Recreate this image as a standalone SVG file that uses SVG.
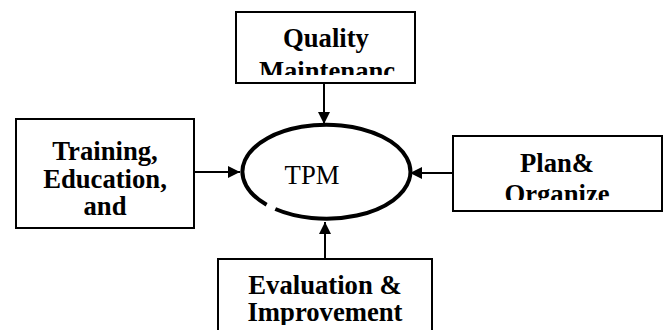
<svg xmlns="http://www.w3.org/2000/svg" width="668" height="330" viewBox="0 0 668 330">
<style>
.box{fill:#fff;stroke:#000;stroke-width:2}
.lbl{font-family:"Liberation Serif","Times New Roman",serif;font-weight:bold;font-size:26.67px;text-anchor:middle;fill:#000}
.tpm{font-family:"Liberation Serif","Times New Roman",serif;font-size:26.67px;text-anchor:middle;fill:#000}
.conn{stroke:#000;stroke-width:2;fill:none}
</style>
<defs>
<marker id="ah" viewBox="0 0 10 10" refX="10" refY="5" markerWidth="6" markerHeight="6" orient="auto" markerUnits="strokeWidth">
<path d="M0,0 L10,5 L0,10 z" fill="#000"/>
</marker>
<clipPath id="cTop"><rect x="236" y="12" width="179" height="63"/></clipPath>
<clipPath id="cRight"><rect x="453" y="136" width="209" height="64"/></clipPath>
<clipPath id="cBottom"><rect x="218" y="259" width="214" height="66"/></clipPath>
</defs>
<rect width="668" height="330" fill="#fff"/>
<g id="connectors">
<line class="conn" x1="324" y1="83" x2="324" y2="124" marker-end="url(#ah)"/>
<line class="conn" x1="194" y1="172" x2="240" y2="172" marker-end="url(#ah)"/>
<line class="conn" x1="453" y1="173" x2="410" y2="173" marker-end="url(#ah)"/>
<line class="conn" x1="325" y1="259" x2="325" y2="222" marker-end="url(#ah)"/>
</g>
<g id="tpm">
<path d="M 275.3 209 A 84 47 0 1 0 266.6 204.7" fill="none" stroke="#000" stroke-width="4"/>
<text class="tpm" x="312" y="184">TPM</text>
</g>
<g id="quality">
<rect class="box" x="236" y="12" width="179" height="71"/>
<g clip-path="url(#cTop)">
<text class="lbl" x="326" y="47">Quality</text>
<text class="lbl" x="327" y="80">Maintenanc</text>
</g>
</g>
<g id="training">
<rect class="box" x="16" y="119" width="178" height="109"/>
<text class="lbl" x="105" y="160">Training,</text>
<text class="lbl" x="105" y="188">Education,</text>
<text class="lbl" x="105" y="215">and</text>
</g>
<g id="plan">
<rect class="box" x="453" y="136" width="209" height="75"/>
<g clip-path="url(#cRight)">
<text class="lbl" x="557" y="172">Plan&amp;</text>
<text class="lbl" x="557" y="203">Organize</text>
</g>
</g>
<g id="evaluation">
<rect class="box" x="218" y="259" width="214" height="90"/>
<g clip-path="url(#cBottom)">
<text class="lbl" x="325" y="294">Evaluation &amp;</text>
<text class="lbl" x="325" y="321">Improvement</text>
</g>
</g>
</svg>
